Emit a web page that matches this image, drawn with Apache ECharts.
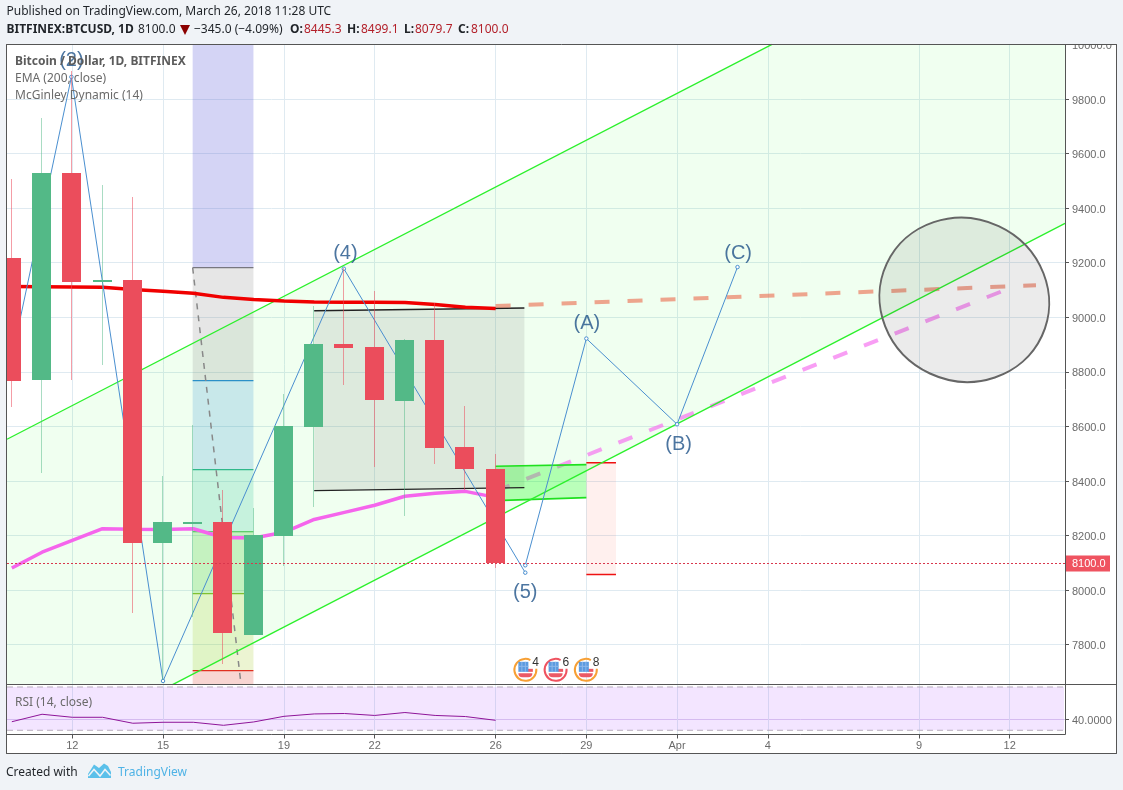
<!DOCTYPE html>
<html>
<head>
<meta charset="utf-8">
<style>html,body{margin:0;padding:0;background:#f0f3f7}#c{width:1123px;height:790px}</style>
<script src="https://cdn.jsdelivr.net/npm/echarts@6/dist/echarts.min.js"></script>
</head>
<body>
<div id="c"></div>
<script>
// ---- data ----
const days = [10,11,12,13,14,15,16,17,18,19,20,21,22,23,24,25,26];
const opens  = [9217,8770,9529,9130,9136,8173,8245,8249,7834,8198,8598,8901,8890,8693,8916,8524,8445.3];
const highs  = [9507,9730,9903,9485,9441,8417,8604,8366,8300,8718,9041,9180,9096,8920,9053,8674,8499.1];
const lows   = [8671,8429,8770,8825,7916,7669,7901,7731,7834,8088,8305,8752,8451,8271,8462,8366,8079.7];
const closes = [8767,9529,9129,9138,8173,8249,8251,7843,8201,8601,8901,8887,8696,8916,8521,8443,8100];
const emaValues = [9113,9112,9111,9110,9102,9095,9088,9073,9065,9060,9056,9055,9055,9054,9047,9037,9032];
const mcgValues = [8081,8139,8182,8225,8223,8222,8225,8193,8191,8212,8259,8285,8311,8344,8355,8362,8340];
const rsiValues = [37.9,44.8,42.0,42.0,36.5,37.4,37.4,34.6,37.7,42.9,45.1,45.5,43.7,46.4,43.7,42.7,39.2];
const emaForecastDays = [26,43.87];
const emaForecastVals = [9041,9117];
const mcgForecastDays = [26,42.85];
const mcgForecastVals = [8363,9100];
const waveOneDays = [10,11.97,15,20.98,26.98];
const waveOneVals = [8850,9881,7667,9178,8064];
const waveTwoDays = [26.98,29,32,34];
const waveTwoVals = [8091,8922,8608,9184];
const waveLabelNames = ['(2)','(4)','(5)','(A)','(B)','(C)'];
const waveLabelDays = [11.97,21.03,26.98,29.02,32.05,34.02];
const waveLabelVals = [9942,9232,7992,8978,8534,9232];
const channelUpperDays = [9.84,35.14];
const channelUpperVals = [8553,10000.4];
const channelLowerDays = [15.30,44.83];
const channelLowerVals = [7652.6,9344];
const fibDays = [15.98,17.99];
const fibLevels = [10001.6,9182,8768,8442,8214,7987,7705,7652.6];
const fibDiagDays = [15.98,17.58];
const fibDiagVals = [9182,7654.1];
const measureDays = [20,26.95];
const measureTopVals = [9024,9034];
const measureBottomVals = [8365,8376];
const forecastBoxDays = [26,29];
const forecastBoxTopVals = [8454,8460];
const forecastBoxBottomVals = [8328,8339];
const lossBoxDays = [29,29.98];
const lossBoxVals = [8467,8057];
const ellipseCentre = [41.5,9064];
const ellipseRadii = [2.83,298];
const eventDays = [27,28,29];
const eventCounts = ['4','6','8'];
const eventLevel = 7706;
const priceTicks = [7800,8000,8200,8400,8600,8800,9000,9200,9400,9600,9800,10000];
const rsiTicks = [40];
const rsiBands = [30,70];
const timeTicks = [12,15,19,22,26,29,32,35,40,43];
const timeTickLabels = ['12','15','19','22','26','29','Apr','4','9','12'];
const lastPrice = 8100;
const xMin = 9.84, xMax = 44.83, yMin = 7654.1, yMax = 10001.6, rsiMin = 26.1, rsiMax = 72.3;

// ---- styles ----
const fibFills = ['rgba(90,90,215,.26)','rgba(128,128,128,.2)','rgba(40,140,210,.2)','rgba(30,190,145,.2)','rgba(25,190,0,.2)','rgba(160,200,30,.2)','rgba(220,50,30,.2)'];
const fibStrokes = [null,'#77777f','#2b90c8','#2fb88a','#3cc04a','#80c030','#e03020'];
const UP='#53b987', DOWN='#eb4d5c', UPW='rgba(83,185,135,.5)', DOWNW='rgba(235,77,92,.55)';
const SANS='Liberation Sans, Arial, sans-serif', UI='"Noto Sans", Tahoma, sans-serif';
const zip=(a,b)=>a.map((v,i)=>[v,b[i]]);

function polySeries(pts, fill, stroke, z){
  return {type:'custom',xAxisIndex:0,yAxisIndex:0,clip:true,silent:true,z,data:[[pts[0][0],pts[0][1]]],
    renderItem(p,api){
      return {type:'polygon',shape:{points:pts.map(q=>api.coord(q))},style:{fill,stroke:stroke||null,lineWidth:1}};
    }};
}
function lineSeries(x,y,color,width,dash,z,extra){
  return Object.assign({type:'line',xAxisIndex:0,yAxisIndex:0,data:zip(x,y),showSymbol:false,silent:true,z,
    lineStyle:{color,width,type:dash||'solid',cap:'butt'}},extra||{});
}

const candleSeries={type:'custom',xAxisIndex:0,yAxisIndex:0,clip:true,silent:true,z:6,
  data:days.map((d,i)=>[d,opens[i],highs[i],lows[i],closes[i]]),
  encode:{x:0,y:[1,2,3,4]},
  renderItem(p,api){
    const d=api.value(0),o=api.value(1),h=api.value(2),l=api.value(3),c=api.value(4);
    const up=c>=o, w=api.size([1,0])[0]*0.63;
    const xc=api.coord([d,o])[0], yo=api.coord([d,o])[1], yc=api.coord([d,c])[1], yh=api.coord([d,h])[1], yl=api.coord([d,l])[1];
    const xw=Math.round(xc)-0.5;
    const top=Math.round(Math.min(yo,yc)), bot=Math.max(Math.round(Math.max(yo,yc)),top+2);
    return {type:'group',children:[
      {type:'line',shape:{x1:xw,y1:Math.round(yh),x2:xw,y2:Math.round(yl)},style:{stroke:up?UPW:DOWNW,lineWidth:1}},
      {type:'rect',shape:{x:Math.floor(xc-w/2),y:top,width:Math.round(w),height:bot-top},style:{fill:up?UP:DOWN}}
    ]};
  }};

const fibSeries={type:'custom',xAxisIndex:0,yAxisIndex:0,clip:true,silent:true,z:2,
  data:fibFills.map((f,i)=>[fibDays[0],fibLevels[i],fibLevels[i+1],i]),
  encode:{x:0,y:[1,2]},
  renderItem(p,api){
    const i=api.value(3), a=api.coord([fibDays[0],api.value(1)]), b=api.coord([fibDays[1],api.value(2)]);
    const kids=[{type:'rect',shape:{x:a[0],y:a[1],width:b[0]-a[0],height:b[1]-a[1]},style:{fill:fibFills[i]}}];
    if(fibStrokes[i]) kids.push({type:'line',shape:{x1:a[0],y1:a[1],x2:b[0],y2:a[1]},style:{stroke:fibStrokes[i],lineWidth:1.2}});
    return {type:'group',children:kids};
  }};

const ellipseSeries={type:'custom',xAxisIndex:0,yAxisIndex:0,clip:true,silent:true,z:5,
  data:[[ellipseCentre[0],ellipseCentre[1],ellipseRadii[0],ellipseRadii[1]]],
  encode:{x:0,y:1},
  renderItem(p,api){
    const c=api.coord([api.value(0),api.value(1)]), s=api.size([api.value(2),api.value(3)]);
    return {type:'ellipse',x:c[0],y:c[1],rotation:-0.436,shape:{cx:0,cy:0,rx:s[0],ry:s[1]},
      style:{fill:'rgba(60,60,60,.1)',stroke:'#666',lineWidth:2}};
  }};

const eventColors=['#f7a035','#ef5360','#f7a035'];
const eventSeries={type:'custom',xAxisIndex:0,yAxisIndex:0,clip:false,silent:true,z:7,
  data:eventDays.map((d,i)=>[d,eventLevel,i]),encode:{x:0,y:1},
  renderItem(p,api){
    const c=api.coord([api.value(0),api.value(1)]), i=api.value(2), x=c[0]-0.5, y=c[1]-0.5;
    const kids=[
      {type:'arc',shape:{cx:x,cy:y,r:11,startAngle:-0.1,endAngle:-1.1,clockwise:true},style:{stroke:eventColors[i],fill:null,lineWidth:2}},
      {type:'rect',shape:{x:x-7,y:y+3.5,width:14,height:4,r:[0,0,5,5]},style:{fill:'#ec5a66'}},
      {type:'rect',shape:{x:x+2,y:y-1,width:5.5,height:3},style:{fill:'#ec5a66'}},
      {type:'rect',shape:{x:x-7,y:y-8,width:10,height:10},style:{fill:'#5b9be0'}},
      {type:'line',shape:{x1:x-3.5,y1:y-8,x2:x-3.5,y2:y+2},style:{stroke:'#8fb8ea',lineWidth:1}},
      {type:'line',shape:{x1:x,y1:y-8,x2:x,y2:y+2},style:{stroke:'#8fb8ea',lineWidth:1}},
      {type:'line',shape:{x1:x-7,y1:y-3.5,x2:x+3,y2:y-3.5},style:{stroke:'#8fb8ea',lineWidth:1}},
      {type:'text',x:x+7,y:y-13,style:{text:eventCounts[i],fill:'#333',font:'12px '+SANS}}
    ];
    return {type:'group',children:kids};
  }};

const lastPriceSeries={type:'custom',xAxisIndex:0,yAxisIndex:0,clip:false,silent:true,z:9,
  data:[[xMax,lastPrice]],encode:{x:0,y:1},
  renderItem(p,api){
    const r=api.coord([api.value(0),api.value(1)]), l=api.coord([xMin,api.value(1)]);
    const y=Math.round(r[1])+0.5;
    return {type:'group',children:[
      {type:'line',shape:{x1:l[0],y1:y,x2:r[0],y2:y},style:{stroke:'#d9364c',lineWidth:1,lineDash:[2,2]}},
      {type:'rect',shape:{x:r[0],y:y-8,width:45,height:16},style:{fill:'#ef5360'}},
      {type:'text',x:r[0]+7,y:y+0.5,style:{text:api.value(1).toFixed(1),fill:'#fff',font:'11px '+SANS,verticalAlign:'middle'}}
    ]};
  }};

const txt=(text,x,y,font,fill)=>({type:'text',x,y,z:60,silent:true,style:{text,font,fill,verticalAlign:'middle'}});
const H='12px '+UI, HB='bold 12px '+UI, RED='#b3202a', INK='#1f2328';
const hl=(x1,y1,x2,y2)=>({type:'line',z:55,silent:true,shape:{x1,y1,x2,y2},style:{stroke:'#555',lineWidth:1}});
const graphics=[
  {type:'rect',z:-10,shape:{x:6.5,y:44.5,width:1110,height:709},style:{fill:'#fff',stroke:'#555',lineWidth:1}},
  {type:'rect',z:50,silent:true,shape:{x:1066,y:24,width:52,height:20},style:{fill:'#f0f3f7'}},
  hl(6.5,44.5,1116.5,44.5), hl(6.5,44.5,6.5,753.5), hl(1116.5,44.5,1116.5,753.5), hl(6.5,753.5,1116.5,753.5),
  hl(6.5,684.5,1116.5,684.5), hl(6.5,734.5,1065.5,734.5), hl(1065.5,44.5,1065.5,734.5),
  txt('Published on TradingView.com, March 26, 2018 11:28 UTC',6.5,12,H,INK),
  txt('BITFINEX:BTCUSD, 1D',6.5,29.5,HB,INK),
  txt('8100.0',138,29.5,H,INK),
  {type:'polygon',z:60,silent:true,shape:{points:[[180,25],[190,25],[185,35]]},style:{fill:'#8b0000'}},
  txt('\u2212345.0 (\u22124.09%)',194,29.5,H,INK),
  txt('O:',290,29.5,HB,INK),txt('8445.3',304,29.5,H,RED),
  txt('H:',347,29.5,HB,INK),txt('8499.1',361,29.5,H,RED),
  txt('L:',404,29.5,HB,INK),txt('8079.7',415,29.5,H,RED),
  txt('C:',458,29.5,HB,INK),txt('8100.0',471,29.5,H,RED),
  txt('Bitcoin / Dollar, 1D, BITFINEX',15,61.5,HB,'#5c5c5c'),
  txt('EMA (200, close)',15,78.5,H,'#6a6a6a'),
  txt('McGinley Dynamic (14)',15,95.5,H,'#6a6a6a'),
  txt('RSI (14, close)',15,702.5,H,'#6a6a6a'),
  txt('Created with',6,773,H,INK),
  txt('TradingView',118,773,H,'#4fb3e6'),
  {type:'polygon',z:60,silent:true,shape:{points:[[88,774],[94,764.5],[99,768],[104,763.5],[108,766],[111,772],[111,778],[88,778]]},style:{fill:'#5bc0ea'}},
  {type:'polyline',z:61,silent:true,shape:{points:[[88.5,776],[94,769.5],[100,776],[105,769.5],[110.5,775.5]]},style:{stroke:'#f0f3f7',fill:null,lineWidth:1.5}}
];

const option={
  animation:false,
  backgroundColor:'transparent',
  graphic:{elements:graphics},
  grid:[
    {left:7,top:44,width:1058,height:640.5,containLabel:false},
    {left:7,top:684.5,width:1058,height:50,containLabel:false}
  ],
  xAxis:[
    {type:'value',gridIndex:0,min:xMin,max:xMax,axisLine:{show:false},
      axisTick:{show:false,customValues:timeTicks},axisLabel:{show:false},
      splitLine:{show:true,lineStyle:{color:'#dfeaf1',width:1}}},
    {type:'value',gridIndex:1,min:xMin,max:xMax,axisLine:{show:false},
      axisTick:{show:true,length:4,lineStyle:{color:'#555'},customValues:timeTicks},
      axisLabel:{show:true,customValues:timeTicks,color:'#6b6b6b',fontFamily:SANS,fontSize:11,margin:6,
        formatter:v=>timeTickLabels[timeTicks.indexOf(v)]},
      splitLine:{show:true,lineStyle:{color:'#dfeaf1',width:1}}}
  ],
  yAxis:[
    {type:'value',gridIndex:0,position:'right',min:yMin,max:yMax,axisLine:{show:false},
      axisTick:{show:true,length:4,lineStyle:{color:'#555'},customValues:priceTicks},
      axisLabel:{show:true,customValues:priceTicks,color:'#6b6b6b',fontFamily:SANS,fontSize:11,margin:7,align:'left',verticalAlign:'top',lineHeight:3,
        formatter:v=>v.toFixed(1)},
      splitLine:{show:true,lineStyle:{color:'#dfeaf1',width:1}}},
    {type:'value',gridIndex:1,position:'right',min:rsiMin,max:rsiMax,axisLine:{show:false},
      axisTick:{show:true,length:4,lineStyle:{color:'#555'},customValues:rsiTicks},
      axisLabel:{show:true,customValues:rsiTicks,color:'#6b6b6b',fontFamily:SANS,fontSize:11,margin:7,align:'left',verticalAlign:'top',lineHeight:3,
        formatter:v=>v.toFixed(4)},
      splitLine:{show:true,lineStyle:{color:'#ddd0ee',width:1}}}
  ],
  series:[
    // channel fill
    polySeries([[channelUpperDays[0],channelUpperVals[0]],[channelUpperDays[1],channelUpperVals[1]],[xMax,yMax],[channelLowerDays[1],channelLowerVals[1]],[channelLowerDays[0],channelLowerVals[0]],[xMin,yMin]],'rgba(0,255,0,.058)',null,1),
    fibSeries,
    lineSeries(fibDiagDays,fibDiagVals,'#888',1.5,[6,6],3),
    polySeries([[measureDays[0],measureTopVals[0]],[measureDays[1],measureTopVals[1]],[measureDays[1],measureBottomVals[1]],[measureDays[0],measureBottomVals[0]]],'rgba(128,128,128,.17)',null,2),
    lineSeries(measureDays,measureTopVals,'#222',1.3,null,3),
    lineSeries(measureDays,measureBottomVals,'#222',1.3,null,3),
    lineSeries(mcgForecastDays,mcgForecastVals,'rgba(245,120,240,.72)',4,[15,18],2),
    lineSeries(emaForecastDays,emaForecastVals,'rgba(235,105,75,.6)',4,[15,18],3),
    polySeries([[forecastBoxDays[0],forecastBoxTopVals[0]],[forecastBoxDays[1],forecastBoxTopVals[1]],[forecastBoxDays[1],forecastBoxBottomVals[1]],[forecastBoxDays[0],forecastBoxBottomVals[0]]],'rgba(0,255,0,.27)',null,3),
    lineSeries(forecastBoxDays,forecastBoxTopVals,'#1fe01f',1.6,null,3),
    lineSeries(forecastBoxDays,forecastBoxBottomVals,'#1fe01f',1.6,null,3),
    polySeries([[lossBoxDays[0],lossBoxVals[0]],[lossBoxDays[1],lossBoxVals[0]],[lossBoxDays[1],lossBoxVals[1]],[lossBoxDays[0],lossBoxVals[1]]],'rgba(255,60,40,.08)',null,3),
    lineSeries(lossBoxDays,[lossBoxVals[0],lossBoxVals[0]],'#ee1111',1.4,null,3),
    lineSeries(lossBoxDays,[lossBoxVals[1],lossBoxVals[1]],'#ee1111',1.4,null,3),
    ellipseSeries,
    lineSeries(channelUpperDays,channelUpperVals,'#2cf02c',1.3,null,4),
    lineSeries(channelLowerDays,channelLowerVals,'#2cf02c',1.3,null,4),
    lineSeries(days,emaValues,'#f00000',3.5,null,4),
    lineSeries(days,mcgValues,'#f565ec',3.5,null,4),
    lineSeries(waveOneDays,waveOneVals,'#4a8fd0',1,null,5,{showSymbol:true,showAllSymbol:true,symbol:'circle',symbolSize:3.5,itemStyle:{color:'#fff',borderColor:'#4a8fd0',borderWidth:1}}),
    lineSeries(waveTwoDays,waveTwoVals,'#4a8fd0',1,null,5,{showSymbol:true,showAllSymbol:true,symbol:'circle',symbolSize:3.5,itemStyle:{color:'#fff',borderColor:'#4a8fd0',borderWidth:1}}),
    candleSeries,
    {type:'scatter',xAxisIndex:0,yAxisIndex:0,silent:true,z:8,symbolSize:1,itemStyle:{color:'transparent'},
      data:waveLabelDays.map((d,i)=>({value:[d,waveLabelVals[i]],name:waveLabelNames[i]})),
      label:{show:true,position:'inside',formatter:'{b}',color:'#1f5288',fontFamily:SANS,fontSize:20}},
    lastPriceSeries,
    eventSeries,
    // RSI pane
    {type:'custom',xAxisIndex:1,yAxisIndex:1,silent:true,clip:true,z:1,data:[[xMin,rsiBands[0]]],
      renderItem(p,api){
        const a=api.coord([xMin,rsiBands[1]]), b=api.coord([xMax,rsiBands[0]]);
        return {type:'rect',shape:{x:a[0],y:a[1],width:b[0]-a[0]-1,height:b[1]-a[1]},style:{fill:'rgba(153,40,255,.12)'}};
      }},
    {type:'line',xAxisIndex:1,yAxisIndex:1,silent:true,z:2,showSymbol:false,data:[[xMin,rsiBands[0]],[xMax,rsiBands[0]]],lineStyle:{color:'#b8aebd',width:1,type:[6,4]}},
    {type:'line',xAxisIndex:1,yAxisIndex:1,silent:true,z:2,showSymbol:false,data:[[xMin,rsiBands[1]],[xMax,rsiBands[1]]],lineStyle:{color:'#b8aebd',width:1,type:[6,4]}},
    {type:'line',xAxisIndex:1,yAxisIndex:1,silent:true,z:3,showSymbol:false,data:zip(days,rsiValues),lineStyle:{color:'#8e1599',width:1}}
  ]
};
echarts.init(document.getElementById('c'),null,{renderer:'canvas'}).setOption(option);
</script>
</body>
</html>
